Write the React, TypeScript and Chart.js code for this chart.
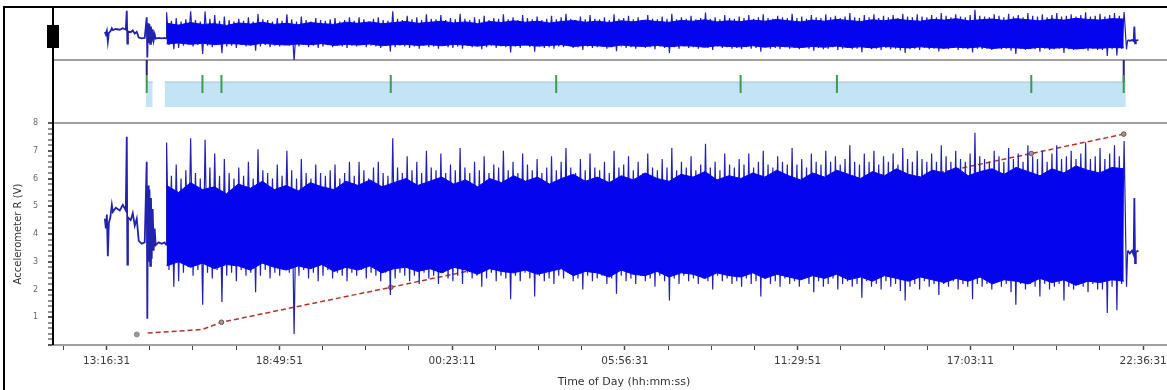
import React, { useEffect, useRef } from 'react';
import { Chart, registerables } from 'chart.js';
Chart.register(...registerables);

// ---- axis configuration (elapsed seconds from 13:16:31) ----
const tickTimes = [0, 20000, 40000, 60000, 80000, 100000, 120000];
const tickLabels = ['13:16:31', '18:49:51', '00:23:11', '05:56:31', '11:29:51', '17:03:11', '22:36:31'];
const minorTickStep = 5000;
const xMin = -6200;
const xMax = 126000;

// ---- signal before the steady section ----
const preTimes = [-196, -81, 35, 150, 265, 438, 611, 727, 1073, 1534, 1880, 2226, 2341, 2411, 2480, 2803, 3033, 3264, 3495, 3725, 4071, 4417, 4648, 4717, 4798, 4879, 4971, 5052, 5144, 5225, 5340, 5456, 5571, 5686, 6032, 6378, 6724, 6897];
const preValues = [4.55, 4.2, 4.7, 3.2, 4.4, 4.6, 5.05, 4.8, 4.95, 4.85, 5.05, 4.85, 7.5, 2.9, 4.6, 4.5, 4.75, 4.3, 4.55, 3.75, 3.65, 3.7, 6.6, 0.95, 5.75, 3.0, 5.6, 2.85, 5.3, 3.1, 4.9, 3.4, 4.2, 3.6, 3.7, 3.65, 3.7, 3.6];

// ---- steady section: per-interval max / min ----
const blockStart = 6950;
const blockStep = 557;
const blockHigh = [
  7.3, 6.1, 6.5, 6.0, 6.3, 7.45, 6.2, 6.0, 7.4, 6.4,
  6.9, 6.1, 6.7, 6.2, 6.0, 6.4, 6.1, 6.6, 6.0, 7.05,
  6.3, 6.2, 6.0, 6.5, 6.1, 7.0, 6.3, 6.0, 6.7, 6.2,
  6.0, 6.5, 6.2, 6.1, 6.3, 6.5, 6.0, 6.2, 6.6, 6.1,
  6.6, 6.3, 6.0, 6.4, 6.6, 6.2, 6.1, 7.45, 6.4, 6.2,
  6.8, 6.3, 6.6, 6.2, 7.0, 6.4, 6.3, 6.9, 6.2, 6.5,
  6.3, 7.1, 6.4, 6.2, 6.6, 6.3, 6.8, 6.2, 6.5, 6.4,
  7.0, 6.3, 6.6, 6.2, 6.9, 6.5, 6.3, 6.7, 6.2, 6.4,
  6.8, 6.3, 6.6, 7.1, 6.4, 6.2, 6.7, 6.3, 6.9, 6.4,
  6.3, 6.6, 6.2, 7.0, 6.4, 6.5, 6.8, 6.3, 6.6, 6.2,
  6.9, 6.4, 6.3, 6.7, 6.4, 7.1, 6.3, 6.6, 6.4, 6.8,
  6.3, 6.5, 7.25, 6.4, 6.6, 6.3, 6.9, 6.5, 6.4, 6.7,
  6.5, 6.9, 6.4, 6.6, 7.0, 6.5, 6.4, 6.8, 6.6, 6.5,
  7.1, 6.5, 6.7, 6.4, 6.9, 6.6, 6.5, 7.0, 6.6, 6.8,
  6.5, 6.7, 7.2, 6.6, 6.5, 6.9, 6.6, 7.0, 6.5, 6.8,
  6.6, 6.9, 6.5, 7.1, 6.7, 6.6, 7.0, 6.7, 6.6, 6.9,
  6.6, 7.2, 6.8, 6.6, 7.0, 6.7, 6.6, 6.9, 7.65, 6.8,
  6.7, 6.6, 7.0, 6.8, 6.6, 7.1, 6.7, 6.9, 6.6, 7.2,
  6.8, 6.7, 7.0, 6.6, 6.9, 7.2, 6.7, 6.8, 7.0, 6.7,
  6.9, 7.3, 6.7, 6.8, 7.1, 6.7, 6.9, 7.2, 6.8, 7.35,
];
const blockLow = [
  2.7, 2.1, 2.3, 2.6, 2.8, 2.5, 2.7, 1.45, 2.6, 2.4,
  2.7, 1.55, 2.5, 2.6, 2.3, 2.7, 2.5, 2.6, 1.9, 2.5,
  2.7, 2.4, 2.6, 2.5, 2.8, 2.6, 0.4, 2.5, 2.7, 2.4,
  2.6, 2.3, 2.5, 2.7, 2.4, 2.6, 2.5, 2.3, 2.6, 2.5,
  2.7, 2.4, 2.6, 2.5, 2.3, 2.6, 1.8, 2.4, 2.6, 2.5,
  2.3, 2.5, 2.2, 2.6, 2.4, 2.5, 2.2, 2.6, 2.4, 2.3,
  2.5, 2.2, 2.6, 2.4, 2.5, 2.1, 2.4, 2.6, 2.3, 2.5,
  2.4, 1.65, 2.5, 2.3, 2.6, 2.4, 1.75, 2.5, 2.3, 2.4,
  2.2, 2.5, 2.4, 2.6, 2.3, 2.4, 2.0, 2.5, 2.3, 2.4,
  2.5, 2.2, 2.4, 1.85, 2.5, 2.3, 2.4, 2.2, 2.5, 2.3,
  2.4, 2.1, 2.5, 2.3, 1.6, 2.4, 2.2, 2.5, 2.3, 2.4,
  2.2, 2.4, 2.3, 2.0, 2.5, 2.3, 2.4, 2.2, 2.3, 2.1,
  2.4, 2.2, 2.3, 1.75, 2.4, 2.2, 2.3, 2.1, 2.4, 2.2,
  2.3, 2.1, 2.4, 2.2, 1.9, 2.3, 2.1, 2.2, 2.4, 2.0,
  2.2, 2.3, 2.1, 2.2, 1.7, 2.3, 2.1, 2.2, 2.0, 2.3,
  2.1, 2.2, 1.95, 1.6, 2.1, 2.2, 2.0, 2.3, 2.1, 2.2,
  1.8, 2.2, 2.1, 2.3, 2.0, 2.2, 2.1, 1.65, 2.2, 2.1,
  2.2, 2.0, 2.3, 2.1, 2.2, 1.9, 1.45, 2.2, 2.0, 2.2,
  2.1, 1.75, 2.2, 2.0, 2.1, 2.2, 1.6, 2.1, 2.0, 2.2,
  2.1, 1.9, 2.2, 2.0, 2.0, 1.15, 2.1, 1.25, 2.2, 2.1,
];
// dense core of the steady section
const coreStart = 6950;
const coreStep = 1385;
const coreHigh = [
  5.75, 5.5, 5.85, 5.6, 5.7, 5.45, 5.8, 5.65, 5.9, 5.6,
  5.75, 5.55, 5.85, 5.7, 5.6, 5.9, 5.75, 5.95, 5.7, 5.85,
  6.0, 5.75, 5.9, 6.05, 5.8, 5.95, 5.7, 6.0, 5.85, 6.1,
  5.9, 6.05, 5.8, 6.0, 6.15, 5.9, 6.05, 5.85, 6.1, 5.95,
  6.2, 6.0, 5.9, 6.15, 6.05, 6.25, 5.95, 6.1, 6.0, 6.2,
  6.05, 6.3, 6.1, 5.95, 6.2, 6.05, 6.3, 6.15, 6.0, 6.25,
  6.1, 6.35, 6.15, 6.05, 6.3, 6.2, 6.4, 6.1, 6.25, 6.35,
  6.15, 6.4, 6.25, 6.1, 6.35, 6.2, 6.45, 6.3, 6.2, 6.4, 6.35,
];
const coreLow = [
  2.85, 3.0, 2.8, 2.95, 2.75, 2.9, 2.85, 2.7, 2.95, 2.8,
  2.7, 2.85, 2.75, 2.9, 2.65, 2.8, 2.7, 2.85, 2.6, 2.75,
  2.8, 2.65, 2.75, 2.6, 2.8, 2.7, 2.55, 2.75, 2.65, 2.6,
  2.7, 2.55, 2.65, 2.75, 2.5, 2.65, 2.6, 2.45, 2.7, 2.55,
  2.5, 2.65, 2.45, 2.6, 2.55, 2.4, 2.6, 2.5, 2.45, 2.6,
  2.4, 2.55, 2.45, 2.35, 2.5, 2.4, 2.55, 2.35, 2.45, 2.3,
  2.5, 2.4, 2.3, 2.45, 2.35, 2.25, 2.4, 2.3, 2.45, 2.2,
  2.35, 2.3, 2.2, 2.4, 2.25, 2.35, 2.15, 2.3, 2.25, 2.35, 2.3,
];

// ---- signal after the steady section ----
const postTimes = [118200, 118450, 118700, 118900, 118980, 119060, 119150, 119450];
const postValues = [3.4, 3.3, 3.4, 3.25, 5.3, 2.95, 3.35, 3.4];

// ---- cumulative trend (red dashed) ----
const trendTimes = [4760, 11100, 13300, 32900, 52050, 73400, 84550, 107050, 117750];
const trendValues = [0.43, 0.56, 0.82, 2.08, 3.33, 4.72, 5.44, 6.9, 7.6];
const startMarkerTimes = [3500];
const startMarkerValues = [0.38];

// ---- event panel ----
const periodStarts = [4530, 6720];
const periodEnds = [5340, 117990];
const periodTop = 0.651;
const periodBottom = 0.254;
const eventTimes = [4650, 11100, 13300, 32900, 52050, 73400, 84550, 107050, 117750];
const eventLow = 0.476;
const eventHigh = 0.762;
const overflowTimes = [4650, 117750];
const overflowLow = [0.762, 0.651];

const FONT = 'DejaVu Sans, Verdana, sans-serif';

function buildSignal() {
  const pts: { x: number; y: number }[] = [];
  preTimes.forEach((t, i) => pts.push({ x: t, y: preValues[i] }));
  blockHigh.forEach((h, i) => {
    const t = blockStart + i * blockStep;
    pts.push({ x: t, y: h });
    pts.push({ x: t + blockStep / 2, y: blockLow[i] });
  });
  postTimes.forEach((t, i) => pts.push({ x: t, y: postValues[i] }));
  return pts;
}

const thumbPlugin = {
  id: 'thumb',
  afterDraw(chart: any) {
    const s = chart.scales.yTop;
    const ctx = chart.ctx;
    ctx.save();
    ctx.fillStyle = '#000';
    ctx.fillRect(s.right - 6, s.top + 17, 12, 23);
    ctx.restore();
  },
};

const noPad = (s: any) => {
  s.paddingTop = 0;
  s.paddingBottom = 0;
  s.paddingLeft = 0;
  s.paddingRight = 0;
};

export default function App() {
  const ref = useRef<HTMLCanvasElement | null>(null);
  useEffect(() => {
    if (!ref.current) return;
    const signal = buildSignal();
    const coreHi = coreHigh.map((v, i) => ({ x: coreStart + i * coreStep, y: v }));
    const coreLo = coreLow.map((v, i) => ({ x: coreStart + i * coreStep, y: v }));
    const trend = trendTimes.map((t, i) => ({ x: t, y: trendValues[i] }));
    const startMarker = startMarkerTimes.map((t, i) => ({ x: t, y: startMarkerValues[i] }));
    const periods: any[] = [];
    periodStarts.forEach((s, i) => {
      periods.push({ x: s, y: periodTop });
      periods.push({ x: periodEnds[i], y: periodTop });
      periods.push({ x: periodEnds[i] + 1, y: null });
    });
    const events: any[] = [];
    eventTimes.forEach((t) => {
      events.push({ x: t, y: eventLow });
      events.push({ x: t, y: eventHigh });
      events.push({ x: t + 1, y: null });
    });
    const overflow: any[] = [];
    overflowTimes.forEach((t, i) => {
      overflow.push({ x: t, y: overflowLow[i] });
      overflow.push({ x: t, y: 1 });
      overflow.push({ x: t + 1, y: null });
    });

    const spikeBlue = '#2222b0';
    const core = '#0404ee';
    const line = { pointRadius: 0, tension: 0, fill: false };
    const preEnd = preTimes[preTimes.length - 1];
    const postStart = postTimes[0];
    const segWidth = (c: any) => (c.p1.parsed.x <= preEnd || c.p0.parsed.x >= postStart ? 1.8 : 1.2);

    const chart = new Chart(ref.current, {
      type: 'line',
      data: {
        datasets: [
          { ...line, data: signal, yAxisID: 'yMain', borderColor: spikeBlue, borderWidth: 1.2, segment: { borderWidth: segWidth }, order: 3 },
          { ...line, data: coreHi, yAxisID: 'yMain', borderWidth: 1, borderColor: core, fill: '+1', backgroundColor: core, order: 1 },
          { ...line, data: coreLo, yAxisID: 'yMain', borderWidth: 1, borderColor: core, order: 2 },
          {
            data: trend, yAxisID: 'yMain', borderColor: '#b0342c', borderWidth: 1.5, borderDash: [5, 3],
            pointRadius: (c: any) => (c.dataIndex >= 2 ? 2.3 : 0), pointBackgroundColor: '#9a9a9a',
            pointBorderColor: '#7a4a40', pointBorderWidth: 1, tension: 0, fill: false, order: 5,
          },
          {
            data: startMarker, yAxisID: 'yMain', showLine: false, pointRadius: 2.5,
            pointBackgroundColor: '#9a9a9a', pointBorderColor: '#888', order: 5,
          },
          { ...line, data: signal, yAxisID: 'yTop', borderColor: spikeBlue, borderWidth: 1.2, segment: { borderWidth: segWidth }, order: 3 },
          { ...line, data: coreHi, yAxisID: 'yTop', borderWidth: 1, borderColor: core, fill: '+1', backgroundColor: core, order: 1 },
          { ...line, data: coreLo, yAxisID: 'yTop', borderWidth: 1, borderColor: core, order: 2 },
          {
            ...line, data: periods, yAxisID: 'yMid', borderColor: '#a6c6d6', borderWidth: 1,
            fill: { value: periodBottom }, backgroundColor: '#c2e4f5', spanGaps: false, order: 6,
          },
          { ...line, data: events, yAxisID: 'yMid', borderColor: '#3e9a52', borderWidth: 2, spanGaps: false, order: 0 },
          { ...line, data: overflow, yAxisID: 'yMid', borderColor: '#22227a', borderWidth: 2, spanGaps: false, order: 0 },
        ] as any,
      },
      options: {
        animation: false,
        responsive: false,
        events: [],
        layout: { padding: { top: 8, left: 0, right: 0, bottom: 0 } },
        plugins: { legend: { display: false }, tooltip: { enabled: false } },
        scales: {
          x: {
            type: 'linear',
            position: 'bottom',
            min: xMin,
            max: xMax,
            afterBuildTicks: (s: any) => {
              const arr: any[] = [];
              for (let v = tickTimes[0] - minorTickStep; v <= xMax; v += minorTickStep) {
                if (v >= xMin) arr.push({ value: v });
              }
              s.ticks = arr;
            },
            ticks: {
              autoSkip: false,
              maxRotation: 0,
              padding: 5,
              color: '#3a3a3a',
              font: { family: FONT, size: 10.5 },
              callback: (v: any) => {
                const i = tickTimes.indexOf(v);
                return i >= 0 ? tickLabels[i] : '';
              },
            },
            grid: {
              display: true,
              drawOnChartArea: false,
              drawTicks: true,
              tickLength: 5,
              tickColor: '#444',
              tickWidth: (c: any) => (c.tick && tickTimes.includes(c.tick.value) ? 1.5 : 1),
            },
            border: { color: '#a0a0a0', width: 2 },
            title: {
              display: true,
              text: 'Time of Day (hh:mm:ss)',
              color: '#333',
              font: { family: FONT, size: 11 },
              padding: { top: 0, bottom: 1 },
            },
            afterFit: (s: any) => { noPad(s); s.height = 45; },
          },
          yTop: {
            type: 'linear',
            position: 'left',
            stack: 'v',
            stackWeight: 52,
            weight: 3,
            min: 0.6,
            max: 7.9,
            ticks: { display: false },
            grid: { display: false },
            border: { color: '#000', width: 2 },
            afterFit: (s: any) => { noPad(s); s.width = 53; },
          },
          yMid: {
            type: 'linear',
            position: 'left',
            stack: 'v',
            stackWeight: 63,
            weight: 2,
            min: 0,
            max: 1,
            afterBuildTicks: (s: any) => { s.ticks = [{ value: 0 }, { value: 1 }]; },
            ticks: { display: false },
            grid: {
              drawTicks: false,
              color: (c: any) => (c.tick && c.tick.value === 1 ? '#a0a0a0' : 'rgba(0,0,0,0)'),
              lineWidth: (c: any) => (c.tick && c.tick.value === 1 ? 2 : 0),
            },
            border: { color: '#000', width: 2 },
            afterFit: (s: any) => { noPad(s); s.width = 53; },
          },
          yMain: {
            type: 'linear',
            position: 'left',
            stack: 'v',
            stackWeight: 222,
            weight: 1,
            min: 0,
            max: 8,
            afterBuildTicks: (s: any) => {
              s.ticks = Array.from({ length: 41 }, (_, i) => ({ value: i / 5 }));
            },
            ticks: {
              autoSkip: false,
              padding: 10,
              color: '#666',
              font: { family: FONT, size: 8 },
              callback: (v: any) => (Number.isInteger(v) && v > 0 ? String(v) : ''),
            },
            grid: {
              drawOnChartArea: true,
              drawTicks: true,
              tickLength: 5,
              tickColor: '#222',
              tickWidth: (c: any) => (c.tick && Number.isInteger(c.tick.value) ? 1.5 : 1),
              color: (c: any) => (c.tick && c.tick.value === 8 ? '#a0a0a0' : 'rgba(0,0,0,0)'),
              lineWidth: (c: any) => (c.tick && c.tick.value === 8 ? 2 : 0),
            },
            border: { color: '#000', width: 2 },
            title: {
              display: true,
              text: 'Accelerometer R (V)',
              color: '#333',
              font: { family: FONT, size: 10 },
              padding: { top: 12, bottom: 0 },
            },
            afterFit: (s: any) => { noPad(s); s.width = 53; },
          },
        },
      } as any,
      plugins: [thumbPlugin],
    });
    return () => chart.destroy();
  }, []);

  return (
    <div style={{ position: 'absolute', left: 0, top: 0, width: 1167, height: 390, overflow: 'hidden', background: '#fff' }}>
      <canvas ref={ref} width={1200} height={390} style={{ display: 'block', width: 1200, height: 390 }} />
      <div style={{ position: 'absolute', left: 3, top: 6, width: 1164, height: 2, background: '#000' }} />
      <div style={{ position: 'absolute', left: 3, top: 6, width: 2, height: 384, background: '#000' }} />
    </div>
  );
}
